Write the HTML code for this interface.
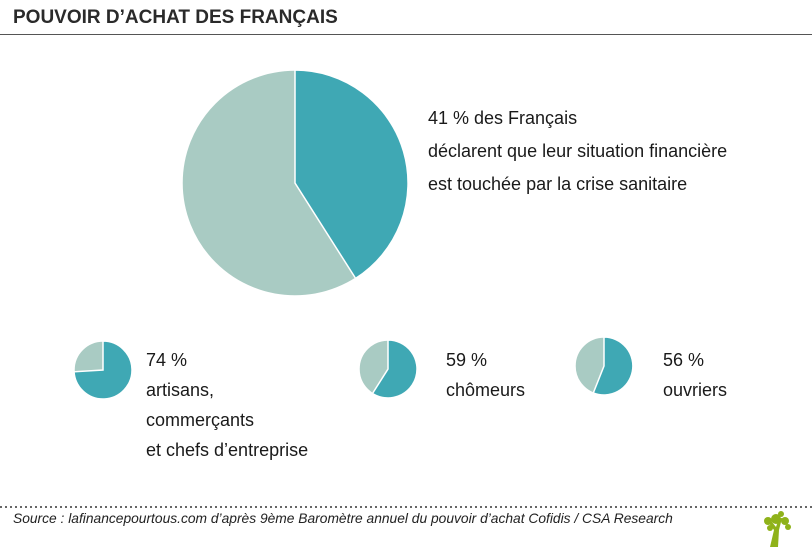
<!DOCTYPE html>
<html><head><meta charset="utf-8"><style>
body{margin:0;width:812px;height:548px;background:#fff;position:relative;overflow:hidden;font-family:"Liberation Sans",sans-serif;color:#1a1a1a}
.t{position:absolute;font-size:18px;line-height:25px}
</style></head><body>
<div style="position:absolute;left:13px;top:7px;font-size:19px;font-weight:bold;color:#2a2a2a">POUVOIR D’ACHAT DES FRANÇAIS</div>
<div style="position:absolute;left:0;top:34px;width:812px;height:1px;background:#555"></div>
<svg width="812" height="548" style="position:absolute;left:0;top:0">
<g stroke="#fff" stroke-width="1.5">
<circle cx="295" cy="183" r="113" fill="#a9cbc3"/>
<path d="M295,183 L295,70 A113,113 0 0 1 355.6,278.4 Z" fill="#3fa8b4"/>
<circle cx="103" cy="370" r="29" fill="#a9cbc3"/>
<path d="M103,370 L103,341 A29,29 0 1 1 74.06,371.8 Z" fill="#3fa8b4"/>
<circle cx="388" cy="369" r="29" fill="#a9cbc3"/>
<path d="M388,369 L388,340 A29,29 0 1 1 372.5,393.5 Z" fill="#3fa8b4"/>
<circle cx="604" cy="366" r="29" fill="#a9cbc3"/>
<path d="M604,366 L604,337 A29,29 0 1 1 593.3,393 Z" fill="#3fa8b4"/>
</g>
<line x1="0" y1="507" x2="812" y2="507" stroke="#333" stroke-width="1.5" stroke-dasharray="2,3"/>
<g fill="#8fb21a">
<path d="M770,547 L774,530 L768,522 L772,522 L776,527 L779,518 L782,518 L779,530 L778,547 Z"/>
<circle cx="776" cy="519" r="5"/><circle cx="768" cy="521" r="4"/><circle cx="785" cy="521" r="4"/><circle cx="770" cy="528" r="3"/><circle cx="788" cy="527" r="3"/><circle cx="781" cy="514" r="3"/>
</g>
</svg>
<div class="t" style="left:428px;top:102px;line-height:33px">41 % des Français<br>déclarent que leur situation financière<br>est touchée par la crise sanitaire</div>
<div class="t" style="left:146px;top:345px;line-height:30px">74 %<br>artisans,<br>commerçants<br>et chefs d’entreprise</div>
<div class="t" style="left:446px;top:345px;line-height:30px">59 %<br>chômeurs</div>
<div class="t" style="left:663px;top:345px;line-height:30px">56 %<br>ouvriers</div>
<div style="position:absolute;left:13px;top:511px;font-size:13.8px;font-style:italic;color:#222">Source : lafinancepourtous.com d’après 9ème Baromètre annuel du pouvoir d’achat Cofidis / CSA Research</div>
</body></html>
